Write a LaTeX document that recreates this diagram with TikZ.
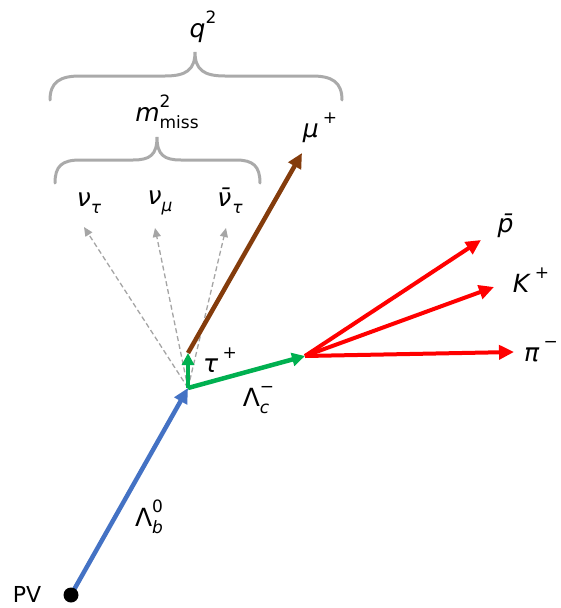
\documentclass[tikz,border=0pt]{standalone}
\usepackage{fontspec}
\setmainfont{DejaVu Sans}
\usetikzlibrary{arrows.meta}
\definecolor{pblue}{RGB}{68,114,196}
\definecolor{pgreen}{RGB}{0,176,80}
\definecolor{pred}{RGB}{255,0,0}
\definecolor{pbrown}{RGB}{132,60,12}
\definecolor{pgray}{RGB}{170,170,170}
\definecolor{dgray}{RGB}{165,165,165}
\newcommand{\sups}[1]{\raisebox{0.55em}{\fontsize{17}{17}\selectfont #1}}
\newcommand{\subs}[1]{\raisebox{-0.28em}{\fontsize{17}{17}\selectfont #1}}
\begin{document}
\begin{tikzpicture}[x=1pt,y=-1pt,
  lbl/.style={inner sep=0pt,font=\fontsize{25}{25}\selectfont},
  track/.style={line width=4.5pt,-{Triangle[length=15pt,width=14pt]}},
  nutrack/.style={dgray,line width=1.3pt,dashed,dash pattern=on 5pt off 3pt,-{Triangle[length=9pt,width=8pt]}},
  bracepath/.style={pgray,line width=3pt,line cap=round}]
\useasboundingbox (0,0) rectangle (560,608);
% vertices
\coordinate (pv) at (71,595);
\coordinate (vtx) at (188,388);
\coordinate (tauend) at (188,353);
\coordinate (lcend) at (305,356);
\coordinate (pbarend) at (481,240);
\coordinate (kend) at (494,287);
\coordinate (piend) at (514,352);
\coordinate (muend) at (302,153);
\coordinate (nu1end) at (84,227);
\coordinate (nu2end) at (155,228);
\coordinate (nu3end) at (226,228);
% braces
\draw[bracepath] (50,100) .. controls (50,82) and (60,76) .. (80,76) -- (165,76)
  .. controls (186,76) and (195,70) .. (195,52)
  .. controls (195,70) and (204,76) .. (225,76) -- (312,76)
  .. controls (332,76) and (342,82) .. (342,100);
\draw[bracepath] (55,183) .. controls (55,166) and (62,160) .. (80,160) -- (133,160)
  .. controls (150,160) and (157,155) .. (157,137)
  .. controls (157,155) and (164,160) .. (181,160) -- (236,160)
  .. controls (253,160) and (260,166) .. (260,183);
% neutrinos
\draw[nutrack] (vtx) -- (nu1end);
\draw[nutrack] (vtx) -- (nu2end);
\draw[nutrack] (vtx) -- (nu3end);
% tracks
\draw[track,pblue] (pv) -- (vtx);
\draw[track,pbrown] (tauend) -- (muend);
\draw[track,pgreen,-{Triangle[length=12pt,width=12pt]}] (vtx) -- (tauend);
\draw[track,pgreen,-{Triangle[length=13pt,width=13pt]}] (vtx) -- (lcend);
\draw[track,pred,line width=4pt] (lcend) -- (pbarend);
\draw[track,pred,line width=4pt] (lcend) -- (kend);
\draw[track,pred,line width=4pt] (lcend) -- (piend);
\fill[black] (pv) circle (7.5pt);
% labels
\node[lbl] (lq) at (203,27) {\textit{q}\sups{2}};
\node[lbl] (lm) at (167,112) {\textit{m}\rlap{\sups{2}}\subs{miss}};
\node[lbl] (lmu) at (320,128) {\textit{μ}\,\sups{+}};
\node[lbl] (lnu1) at (89,203) {\textit{ν}\subs{\textit{τ}}};
\node[lbl] (lnu2) at (160,203) {\textit{ν}\subs{\textit{μ}}};
\node[lbl] (lnu3) at (230,201) {\textit{ν̄}\subs{\textit{τ}}};
\node[lbl] (ltau) at (220,360) {\textit{τ}\,\sups{+}};
\node[lbl] (llc) at (256,400) {Λ\rlap{\sups{−}}\subs{\textit{c}}};
\node[lbl] (llb) at (149,517) {Λ\rlap{\sups{0}}\subs{\textit{b}}};
\node[lbl,font=\fontsize{22}{22}\selectfont] (lpv) at (27,594) {PV};
\node[lbl] (lp) at (506,226) {\textit{p̄}};
\node[lbl] (lk) at (531,280) {\textit{K}\,\sups{+}};
\node[lbl] (lpi) at (541,352) {\textit{π}\,\sups{−}};
\end{tikzpicture}
\end{document}
